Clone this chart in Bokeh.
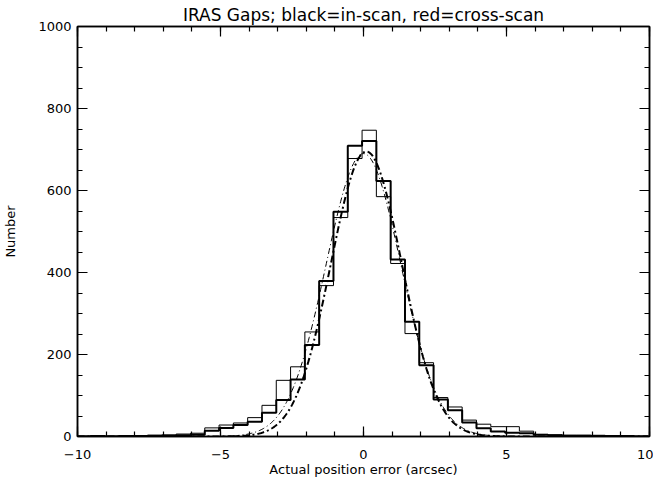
import numpy as np
from bokeh.plotting import figure
from bokeh.models import LinearAxis, FixedTicker, Range1d
from bokeh.embed import file_html
from bokeh.resources import INLINE

# ---- data ----
bin_width = 0.5
first_edge = -10.05
# in-scan (black, thick)
in_scan = [0, 1, 0, 1, 1, 2, 2, 3, 4, 14,
           21, 28, 36, 58, 89, 139, 223, 379, 548, 709,
           721, 623, 432, 280, 174, 90, 64, 34, 20, 12,
           9, 8, 4, 3, 2, 2, 1, 1, 1, 0]
# cross-scan (red in original, thin)
cross_scan = [1, 0, 1, 2, 2, 3, 4, 6, 8, 21,
              28, 33, 46, 76, 137, 170, 255, 368, 534, 678,
              747, 585, 422, 251, 180, 95, 72, 40, 30, 24,
              24, 13, 5, 4, 3, 3, 3, 2, 2, 1]
# Gaussian fit parameters (amplitude, centre, sigma)
fit_in = (695, 0.10, 1.24)
fit_cross = (690, 0.00, 1.31)

x_ticks = [-10, -5, 0, 5, 10]
y_ticks = [0, 200, 400, 600, 800, 1000]

FONT = "DejaVu Sans"

p = figure(width=652, height=480, output_backend="svg", toolbar_location=None,
           x_range=Range1d(-10, 10), y_range=Range1d(0, 1000),
           frame_width=572, frame_height=410,
           min_border_left=74, min_border_right=4, min_border_top=26, min_border_bottom=42,
           title="IRAS Gaps; black=in-scan, red=cross-scan")
p.title.align = "center"
p.title.text_font = FONT
p.title.text_font_size = "17px"
p.title.text_font_style = "normal"
p.title.text_color = "black"
p.title.standoff = 4
p.title.offset = 0
p.grid.visible = False
p.outline_line_color = "black"
p.outline_line_width = 1.5
p.background_fill_color = "white"
p.border_fill_color = "white"

xt = FixedTicker(ticks=x_ticks, minor_ticks=list(range(-10, 11)))
yt = FixedTicker(ticks=y_ticks, minor_ticks=list(range(0, 1001, 50)))

def style(ax, labels=True):
    ax.axis_line_color = "black"
    ax.axis_line_width = 1.5
    ax.major_tick_in = 10
    ax.major_tick_out = 0
    ax.minor_tick_in = 5
    ax.minor_tick_out = 0
    ax.major_tick_line_color = "black"
    ax.minor_tick_line_color = "black"
    ax.major_tick_line_width = 1.2
    ax.minor_tick_line_width = 1.2
    if labels:
        ax.major_label_text_font = FONT
        ax.major_label_text_font_size = "13px"
        ax.major_label_text_color = "black"
        ax.axis_label_text_font = FONT
        ax.axis_label_text_font_size = "13px"
        ax.axis_label_text_font_style = "normal"
        ax.axis_label_text_color = "black"

p.xaxis.ticker = xt
p.yaxis.ticker = yt
style(p.xaxis[0])
style(p.yaxis[0])
p.xaxis.axis_label = "Actual position error (arcsec)"
p.yaxis.axis_label = "Number"
p.xaxis.major_label_standoff = 13
p.yaxis.major_label_standoff = 6
p.yaxis.axis_label_standoff = 17
p.xaxis.axis_label_standoff = 0
p.xaxis.major_label_overrides = {-10: "\u221210", -5: "\u22125"}

top = LinearAxis(ticker=xt, major_label_overrides={t: "" for t in x_ticks},
                 major_label_standoff=0, major_label_text_font_size="1px")
style(top, labels=False)
p.add_layout(top, "above")
right = LinearAxis(ticker=yt, major_label_overrides={t: "" for t in y_ticks},
                   major_label_standoff=0, major_label_text_font_size="1px")
style(right, labels=False)
p.add_layout(right, "right")

# histograms as steps
n = len(in_scan)
edges = [first_edge + bin_width * i for i in range(n + 1)]
p.step(edges, in_scan + [in_scan[-1]], mode="after", line_color="black", line_width=2)
p.step(edges, cross_scan + [cross_scan[-1]], mode="after", line_color="black", line_width=1)

# gaussian fits
xs = np.linspace(-10, 10, 801)
def gauss(par):
    a, m, s = par
    return a * np.exp(-(xs - m) ** 2 / (2 * s ** 2))
p.line(xs, gauss(fit_in), line_color="black", line_width=2, line_dash="7 3 2 3")
p.line(xs, gauss(fit_cross), line_color="black", line_width=1, line_dash="6 3 1 3")

open("out.html", "w").write(file_html(p, INLINE))
